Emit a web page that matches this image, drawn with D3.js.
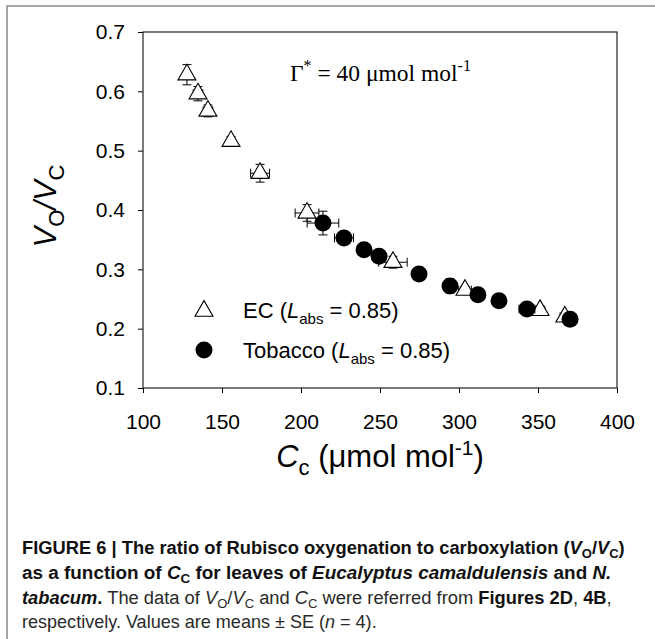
<!DOCTYPE html>
<html>
<head>
<meta charset="utf-8">
<script src="https://cdn.jsdelivr.net/npm/d3@7"></script>
<style>
  html, body { margin: 0; padding: 0; background: #fff; }
  svg { display: block; }
</style>
</head>
<body>
<script>
// Vo/Vc against Cc for E. camaldulensis (EC) and tobacco, means ± SE
const ecCc       = [127.8, 134.8, 141.1, 155.7, 174.1, 203.8, 258.2, 303.8, 351.3, 367.0];
const ecCcSE     = [2, 3, 3, 2, 6, 7.5, 9, 4, 3, 3];
const ecRatio    = [0.628, 0.596, 0.567, 0.516, 0.462, 0.395, 0.312, 0.265, 0.231, 0.220];
const ecRatioSE  = [0.017, 0.012, 0.010, 0.008, 0.015, 0.014, 0.010, 0.006, 0.004, 0.004];

const tobCc      = [213.9, 227.2, 239.9, 249.4, 274.7, 294.3, 312.0, 325.3, 343.0, 370.3];
const tobCcSE    = [10, 6, 4, 3, 2, 2, 2, 2, 5, 2];
const tobRatio   = [0.378, 0.353, 0.333, 0.322, 0.292, 0.272, 0.257, 0.247, 0.233, 0.216];
const tobRatioSE = [0.020, 0.010, 0.008, 0.008, 0.005, 0.012, 0.005, 0.005, 0.005, 0.005];

const xTicks = [100, 150, 200, 250, 300, 350, 400];
const yTicks = [0.1, 0.2, 0.3, 0.4, 0.5, 0.6, 0.7];

const W = 655, H = 639;
const sans = "'Liberation Sans', Arial, Helvetica, sans-serif";
const serif = "'Liberation Serif', 'Times New Roman', serif";

const svg = d3.select("body").append("svg")
  .attr("width", W).attr("height", H)
  .attr("viewBox", `0 0 ${W} ${H}`);

svg.append("rect").attr("width", W).attr("height", H).attr("fill", "#fff");

// figure panel border (runs off the right and bottom edges)
svg.append("rect")
  .attr("x", 7).attr("y", 6).attr("width", W + 20).attr("height", H + 20)
  .attr("fill", "none").attr("stroke", "#8a8a8a").attr("stroke-width", 1.5);

const x = d3.scaleLinear().domain([100, 400]).range([143, 617]);
const y = d3.scaleLinear().domain([0.1, 0.7]).range([388, 32]);

// axes
const xAxis = svg.append("g")
  .attr("transform", `translate(0,${y(0.1)})`)
  .call(d3.axisBottom(x).tickValues(xTicks).tickSize(5).tickFormat(d3.format("d")));
xAxis.select(".domain").remove();
xAxis.selectAll("text").attr("y", 41).attr("dy", 0)
  .style("font-family", sans).style("font-size", "21px").attr("fill", "#000");

const yAxis = svg.append("g")
  .attr("transform", `translate(${x(100)},0)`)
  .call(d3.axisLeft(y).tickValues(yTicks).tickSize(5).tickPadding(13).tickFormat(d3.format(".1f")));
yAxis.select(".domain").remove();
yAxis.selectAll("text")
  .style("font-family", sans).style("font-size", "21px").attr("fill", "#000");

svg.selectAll(".tick line").attr("stroke", "#000").attr("stroke-width", 1);

// plot frame
svg.append("rect")
  .attr("x", x(100)).attr("y", y(0.7))
  .attr("width", x(400) - x(100)).attr("height", y(0.1) - y(0.7))
  .attr("fill", "none").attr("stroke", "#222").attr("stroke-width", 1.2);

// data
const ec = ecCc.map((c, i) => ({ c, cs: ecCcSE[i], r: ecRatio[i], rs: ecRatioSE[i] }));
const tob = tobCc.map((c, i) => ({ c, cs: tobCcSE[i], r: tobRatio[i], rs: tobRatioSE[i] }));

function errorBars(g, data) {
  const cap = 4.5;
  data.forEach(d => {
    const cx = x(d.c), cy = y(d.r);
    const y0 = y(d.r - d.rs), y1 = y(d.r + d.rs);
    const x0 = x(d.c - d.cs), x1 = x(d.c + d.cs);
    const p = d3.path();
    p.moveTo(cx, y0); p.lineTo(cx, y1);
    p.moveTo(cx - cap, y0); p.lineTo(cx + cap, y0);
    p.moveTo(cx - cap, y1); p.lineTo(cx + cap, y1);
    p.moveTo(x0, cy); p.lineTo(x1, cy);
    p.moveTo(x0, cy - cap); p.lineTo(x0, cy + cap);
    p.moveTo(x1, cy - cap); p.lineTo(x1, cy + cap);
    g.append("path").attr("d", p.toString())
      .attr("fill", "none").attr("stroke", "#000").attr("stroke-width", 1);
  });
}

const tri = d3.symbol().type(d3.symbolTriangle).size(140);
const R = 8.5;

const gEc = svg.append("g");
errorBars(gEc, ec);
gEc.selectAll("path.tri").data(ec).join("path")
  .attr("class", "tri")
  .attr("d", tri)
  .attr("transform", d => `translate(${x(d.c)},${y(d.r)})`)
  .attr("fill", "#fff").attr("stroke", "#000").attr("stroke-width", 1.1);

const gTob = svg.append("g");
errorBars(gTob, tob);
gTob.selectAll("circle").data(tob).join("circle")
  .attr("cx", d => x(d.c)).attr("cy", d => y(d.r)).attr("r", R)
  .attr("fill", "#000");

// annotation
const ann = svg.append("text")
  .attr("x", 290).attr("y", 81)
  .style("font-family", serif).style("font-size", "23.5px").attr("fill", "#000");
ann.append("tspan").text("Γ");
ann.append("tspan").attr("dy", -10).style("font-size", "16px").text("*");
ann.append("tspan").attr("dy", 10).text(" = 40 μmol mol");
ann.append("tspan").attr("dy", -10).style("font-size", "16px").text("-1");

// legend
function legendLabel(name, yPos) {
  const t = svg.append("text").attr("x", 243).attr("y", yPos)
    .style("font-family", sans).style("font-size", "22px").attr("fill", "#000");
  t.append("tspan").text(name + " (");
  t.append("tspan").style("font-style", "italic").text("L");
  t.append("tspan").attr("dy", 6).style("font-size", "15px").text("abs");
  t.append("tspan").attr("dy", -6).text(" = 0.85)");
}
svg.append("path").attr("d", tri)
  .attr("transform", "translate(204,311)")
  .attr("fill", "#fff").attr("stroke", "#000").attr("stroke-width", 1.1);
legendLabel("EC", 318);
svg.append("circle").attr("cx", 204).attr("cy", 350).attr("r", R).attr("fill", "#000");
legendLabel("Tobacco", 358);

// axis titles
const yl = svg.append("text")
  .attr("transform", "translate(56,206) rotate(-90)")
  .attr("text-anchor", "middle")
  .style("font-family", sans).style("font-size", "31px").attr("fill", "#000");
yl.append("tspan").style("font-style", "italic").text("V");
yl.append("tspan").attr("dy", 8).style("font-size", "22px").text("O");
yl.append("tspan").attr("dy", -8).style("font-style", "italic").text("/V");
yl.append("tspan").attr("dy", 8).style("font-size", "22px").text("C");

const xl = svg.append("text")
  .attr("x", 380).attr("y", 467).attr("text-anchor", "middle")
  .style("font-family", sans).style("font-size", "31px").attr("fill", "#000");
xl.append("tspan").style("font-style", "italic").text("C");
xl.append("tspan").attr("dy", 8).style("font-size", "22px").text("c");
xl.append("tspan").attr("dy", -8).text(" (μmol mol");
xl.append("tspan").attr("dy", -12).style("font-size", "21px").text("-1");
xl.append("tspan").attr("dy", 12).text(")");

// caption
const captionLines = [
  { y: 554, width: 603, parts: [
    ["b", "FIGURE 6 | The ratio of Rubisco oxygenation to carboxylation ("],
    ["bi", "V"], ["bsub", "O"], ["b", "/"], ["bi", "V"], ["bsub", "C"], ["b", ")"] ] },
  { y: 579, width: 590, parts: [
    ["b", "as a function of "], ["bi", "C"], ["bsub", "C"], ["b", " for leaves of "],
    ["bi", "Eucalyptus camaldulensis"], ["b", " and "], ["bi", "N."] ] },
  { y: 604, width: 590, parts: [
    ["bi", "tabacum"], ["b", "."], ["n", " The data of "], ["i", "V"], ["sub", "O"], ["n", "/"],
    ["i", "V"], ["sub", "C"], ["n", " and "], ["i", "C"], ["sub", "C"],
    ["n", " were referred from "], ["b", "Figures 2D"], ["n", ", "], ["b", "4B"], ["n", ","] ] },
  { y: 628, width: 355, parts: [
    ["n", "respectively. Values are means ± SE ("], ["i", "n"], ["n", " = 4)."] ] }
];

captionLines.forEach(line => {
  const g = svg.append("g");
  const t = g.append("text").attr("x", 0).attr("y", 0)
    .style("font-family", sans).style("font-size", "19px").attr("fill", "#2a2a2a");
  let shifted = false;
  line.parts.forEach(([kind, str]) => {
    const s = t.append("tspan").text(str);
    const isSub = kind.endsWith("sub");
    if (kind.startsWith("b")) s.style("font-weight", "bold").attr("fill", "#111");
    if (kind.endsWith("i")) s.style("font-style", "italic");
    if (isSub) { s.style("font-size", "13.5px"); if (!shifted) { s.attr("dy", 4); shifted = true; } }
    else if (shifted) { s.attr("dy", -4); shifted = false; }
  });
  const w = t.node().getComputedTextLength();
  g.attr("transform", `translate(22,${line.y}) scale(${line.width / w},1)`);
});
</script>
</body>
</html>
